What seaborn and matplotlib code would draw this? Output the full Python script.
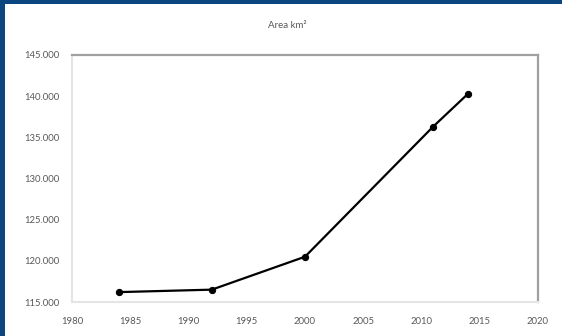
import matplotlib
matplotlib.use("Agg")
import matplotlib.pyplot as plt
import matplotlib.ticker as mticker
from matplotlib.patches import Rectangle
import pandas as pd
import seaborn as sns

# values
years = [1984, 1992, 2000, 2011, 2014]
area_km2 = [116200, 116500, 120500, 136300, 140300]
title = "Area km²"

df = pd.DataFrame({"year": years, "area": area_km2})

sns.set_theme(style="white")
plt.rcParams["font.family"] = ["Lato", "DejaVu Sans"]

fig = plt.figure(figsize=(5.62, 3.36), dpi=100)
fig.patch.set_facecolor("#0b4680")
# white card inside the blue frame (left and top borders only)
fig.patches.append(Rectangle((5 / 562, 0), 1, (336 - 4) / 336,
                             transform=fig.transFigure, facecolor="white",
                             edgecolor="none", zorder=-10))

ax = fig.add_axes([72 / 562, 1 - 302 / 336, (538 - 72) / 562, (302 - 55) / 336])
ax.set_zorder(5)
sns.lineplot(data=df, x="year", y="area", ax=ax, color="black",
             linewidth=1.6, marker="o", markersize=4.5,
             markeredgecolor="black")

ax.set_xlim(1980, 2020)
ax.set_ylim(115000, 145000)
ax.xaxis.set_major_locator(mticker.MultipleLocator(5))
ax.yaxis.set_major_locator(mticker.MultipleLocator(5000))
ax.yaxis.set_major_formatter(
    mticker.FuncFormatter(lambda v, p: f"{int(v):,}".replace(",", ".")))
ax.set_xlabel("")
ax.set_ylabel("")
ax.tick_params(axis="both", labelsize=6.8, colors="#595959", length=0)
ax.tick_params(axis="x", pad=11)
ax.tick_params(axis="y", pad=9)

for side in ["left", "bottom"]:
    ax.spines[side].set_color("#e4e4e4")
    ax.spines[side].set_linewidth(1.5)
for side in ["top", "right"]:
    ax.spines[side].set_color("#a0a0a0")
    ax.spines[side].set_linewidth(1.6)

fig.text(287 / 562, 1 - 25 / 336, title, ha="center", va="center",
         fontsize=7, color="#595959")

fig.savefig("out.png", dpi=100, facecolor=fig.get_facecolor())
